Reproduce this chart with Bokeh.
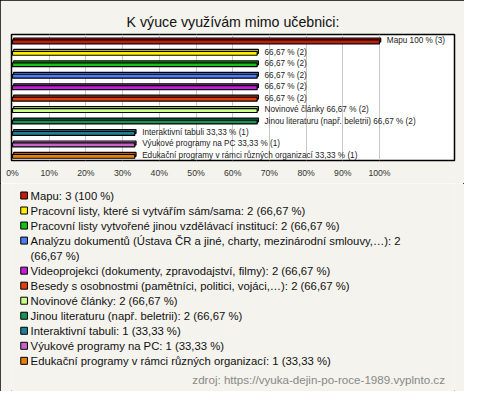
from bokeh.plotting import figure
from bokeh.layouts import column
from bokeh.models import Range1d, FixedTicker, CustomJSTickFormatter
from bokeh.core.properties import value
from bokeh.embed import file_html
from bokeh.resources import INLINE

title = "K výuce využívám mimo učebnici:"
categories = [
    "Mapu",
    "Pracovní listy, které si vytvářím sám/sama",
    "Pracovní listy vytvořené jinou vzdělávací institucí",
    "Analýzu dokumentů (Ústava ČR a jiné, charty, mezinárodní smlouvy,…)",
    "Videoprojekci (dokumenty, zpravodajství, filmy)",
    "Besedy s osobnostmi (pamětníci, politici, vojáci,…)",
    "Novinové články",
    "Jinou literaturu (např. beletrii)",
    "Interaktivní tabuli",
    "Výukové programy na PC",
    "Edukační programy v rámci různých organizací",
]
counts = [3, 2, 2, 2, 2, 2, 2, 2, 1, 1, 1]
percents = [100, 66.67, 66.67, 66.67, 66.67, 66.67, 66.67, 66.67, 33.33, 33.33, 33.33]
pct_text = ["100", "66,67", "66,67", "66,67", "66,67", "66,67", "66,67", "66,67", "33,33", "33,33", "33,33"]
bar_label_names = ["Mapu", "", "", "", "", "", "Novinové články", "Jinou literaturu (např. beletrii)",
                   "Interaktivní tabuli", "Výukové programy na PC", "Edukační programy v rámci různých organizací"]
colors = ["#c41c0c", "#ffee00", "#18c018", "#4f7cf5", "#c41cd8", "#e0400f",
          "#ccff88", "#17935a", "#1f7f93", "#c466c6", "#e8800f"]
tick_values = [0, 10, 20, 30, 40, 50, 60, 70, 80, 90, 100]
source_text = "zdroj: https://vyuka-dejin-po-roce-1989.vyplnto.cz"

BG = "#f4f3ed"
FONT = "Liberation Sans"

# ---------- bar chart ----------
W = 464
H1 = 183
frame_left, frame_right = 11, 454
frame_top, frame_bottom = 34, 160
px_per_pct = 3.67
frame_w = frame_right - frame_left
x0 = -1 / px_per_pct
p = figure(width=W, height=H1, output_backend="svg", toolbar_location=None,
           x_range=Range1d(x0, x0 + frame_w / px_per_pct),
           y_range=Range1d(10.45, -0.56), y_axis_location=None,
           min_border_left=frame_left, min_border_right=W - frame_right,
           min_border_top=frame_top, min_border_bottom=H1 - frame_bottom)
p.title.text = title
p.title.align = "center"
p.title.text_font = FONT
p.title.text_font_size = "14.2px"
p.title.text_font_style = "normal"
p.title.text_color = "#111111"
p.title.standoff = 9
p.background_fill_color = "white"
p.border_fill_color = BG
p.outline_line_color = "black"
p.outline_line_width = 1.5

xa = p.xaxis[0]
xa.ticker = FixedTicker(ticks=tick_values)
xa.formatter = CustomJSTickFormatter(code="return tick + '%';")
xa.axis_line_color = None
xa.major_tick_line_color = None
xa.minor_tick_line_color = None
xa.major_tick_out = 0
xa.major_tick_in = 0
xa.major_label_standoff = 7
xa.major_label_text_font = FONT
xa.major_label_text_font_size = "8.7px"
xa.major_label_text_color = "#333333"
p.xgrid.ticker = FixedTicker(ticks=tick_values[1:])
p.xgrid.grid_line_color = "#c8c8c8"
p.ygrid.grid_line_color = None

ys = list(range(len(categories)))
dx = 1.2 / px_per_pct
dy = 0.084
p.hbar(y=[y - dy for y in ys], left=[dx] * len(ys), right=[v + dx for v in percents], height=0.34,
       fill_color=colors, line_color="black", line_width=1.2)
p.hbar(y=[y + dy for y in ys], left=[0] * len(ys), right=percents, height=0.34,
       fill_color=colors, line_color="black", line_width=1.2)

labels = [(n + " " if n else "") + t + " % (" + str(c) + ")" for n, t, c in zip(bar_label_names, pct_text, counts)]
p.text(x=[v + 2.0 for v in percents], y=ys, text=labels, text_font=value(FONT),
       text_font_size="8.2px", text_color="#222222", text_baseline="middle", text_align="left")

# ---------- legend ----------
H2 = 391 - H1
q = figure(width=W, height=H2, output_backend="svg", toolbar_location=None,
           x_range=Range1d(0, W), y_range=Range1d(H2, 0),
           x_axis_location=None, y_axis_location=None,
           min_border=0, min_border_left=0, min_border_right=0, min_border_top=0, min_border_bottom=0)
q.background_fill_color = BG
q.border_fill_color = BG
q.outline_line_color = None
q.xgrid.grid_line_color = None
q.ygrid.grid_line_color = None

line0 = 195 - H1
pitch = 15.03
legend_lines = []
sq_y = []
row = 0
for name, c, t in zip(categories, counts, pct_text):
    sq_y.append(line0 + pitch * row)
    if name.startswith("Analýzu"):
        legend_lines.append((f"{name}: {c}", line0 + pitch * row))
        row += 1
        legend_lines.append((f"({t} %)", line0 + pitch * row))
    else:
        legend_lines.append((f"{name}: {c} ({t} %)", line0 + pitch * row))
    row += 1

q.rect(x=[13.2] * len(sq_y), y=sq_y, width=7, height=7, fill_color=colors,
       line_color="black", line_width=1)
q.text(x=[20] * len(legend_lines), y=[l[1] for l in legend_lines], text=[l[0] for l in legend_lines],
       text_font=value(FONT), text_font_size="11.3px", text_color="#111111",
       text_baseline="middle", text_align="left")
q.text(x=[454], y=[379 - H1], text=[source_text], text_font=value(FONT), text_font_size="11.6px",
       text_color="#888888", text_baseline="middle", text_align="right")

layout = column(p, q, spacing=0,
                styles={"outline": "1px solid black", "outline-offset": "-1px"})
open("out.html", "w").write(file_html(layout, INLINE))
